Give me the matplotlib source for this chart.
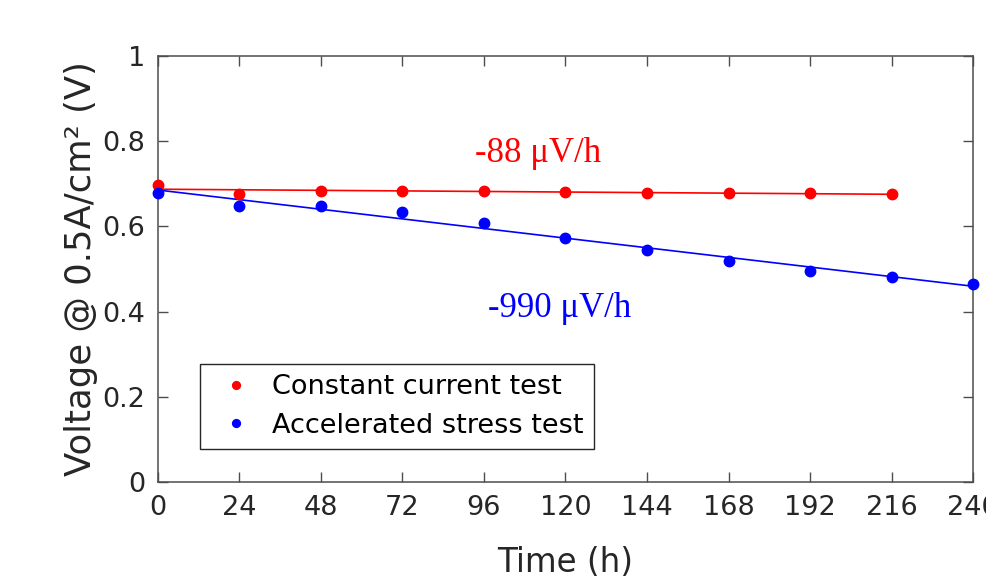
import numpy as np
import matplotlib.pyplot as plt

# Data
time_cc = np.array([0, 24, 48, 72, 96, 120, 144, 168, 192, 216])
volt_cc = np.array([0.697, 0.675, 0.684, 0.684, 0.682, 0.681, 0.679, 0.679, 0.678, 0.675])

time_ast = np.array([0, 24, 48, 72, 96, 120, 144, 168, 192, 216, 240])
volt_ast = np.array([0.679, 0.649, 0.648, 0.634, 0.609, 0.572, 0.544, 0.520, 0.495, 0.482, 0.466])

x_ticks = [0, 24, 48, 72, 96, 120, 144, 168, 192, 216, 240]
y_ticks = [0, 0.2, 0.4, 0.6, 0.8, 1]
y_tick_labels = ["0", "0.2", "0.4", "0.6", "0.8", "1"]

rate_cc = "-88 μV/h"
rate_ast = "-990 μV/h"

plt.rcParams['font.family'] = ['DejaVu Sans']

fig = plt.figure(figsize=(9.86, 5.83), dpi=100)
ax = fig.add_axes([0.160, 0.173, 0.827, 0.731])

# linear fits
p_cc = np.polyfit(time_cc, volt_cc, 1)
p_ast = np.polyfit(time_ast, volt_ast, 1)
ax.plot(time_cc, np.polyval(p_cc, time_cc), color='#ff0000', linewidth=1.2)
ax.plot(time_ast, np.polyval(p_ast, time_ast), color='#0000ff', linewidth=1.2)

ax.plot(time_cc, volt_cc, 'o', color='#ff0000', markersize=7.5, label='Constant current test',
        clip_on=False, zorder=3)
ax.plot(time_ast, volt_ast, 'o', color='#0000ff', markersize=7.5, label='Accelerated stress test',
        clip_on=False, zorder=3)

ax.set_xlim(0, 240)
ax.set_ylim(0, 1)
ax.set_xticks(x_ticks)
ax.set_xticklabels([str(t) for t in x_ticks])
ax.set_yticks(y_ticks)
ax.set_yticklabels(y_tick_labels)
ax.tick_params(direction='in', top=True, right=True, length=7, width=1,
               color='#4d4d4d', labelsize=19.5, labelcolor='#262626', pad=9)
for s in ax.spines.values():
    s.set_color('#4d4d4d')
    s.set_linewidth(1.1)

ax.set_xlabel('Time (h)', fontsize=23.5, color='#262626', labelpad=18)
ax.set_ylabel('Voltage @ 0.5A/cm² (V)', fontsize=25.5, color='#262626', labelpad=3)

serif = ['Liberation Serif', 'DejaVu Serif']
ax.text(93.3, 0.751, rate_cc, color='#ff0000', fontsize=25, family=serif, va='baseline')
ax.text(97.2, 0.388, rate_ast, color='#0000ff', fontsize=25, family=serif, va='baseline')

leg = ax.legend(loc='lower left', bbox_to_anchor=(0.0515, 0.078), fontsize=19.5,
                frameon=True, fancybox=False, edgecolor='#262626', framealpha=1,
                handletextpad=0.4, borderpad=0.38, labelspacing=0.45, handlelength=1.9,
                markerscale=0.75, borderaxespad=0)
leg.get_frame().set_linewidth(1)

fig.savefig('out.png', dpi=100)
